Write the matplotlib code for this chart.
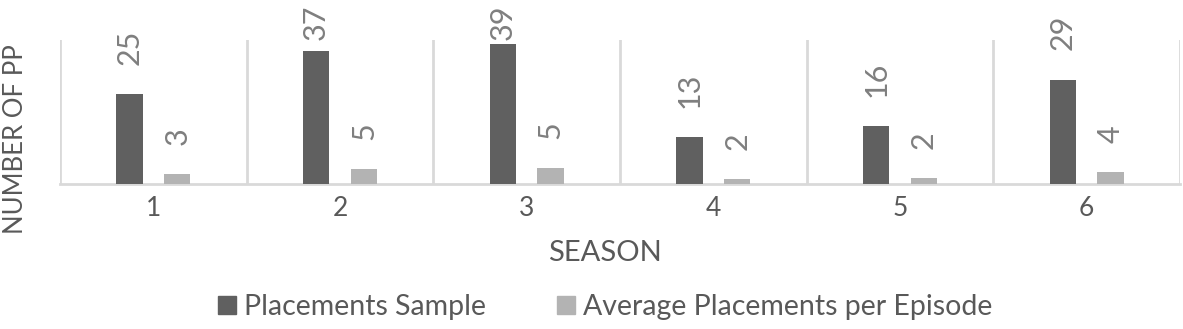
import matplotlib
matplotlib.use("Agg")
import matplotlib.pyplot as plt
import matplotlib.patches as mpatches
import numpy as np

plt.rcParams['font.family'] = ['Lato', 'DejaVu Sans']

seasons = ['1', '2', '3', '4', '5', '6']
placements = [25, 37, 39, 13, 16, 29]
# averages; the labels shown in the chart are rounded up
avg_per_episode = [2.8, 4.2, 4.5, 1.3, 1.6, 3.25]
avg_labels = ['3', '5', '5', '2', '2', '4']

DARK = '#606060'
LIGHT = '#b3b3b3'
GRID = '#d9d9d9'
TEXT = '#595959'
LABEL = '#7f7f7f'

W, H = 1183, 329
fig = plt.figure(figsize=(W / 100, H / 100), dpi=100)
ax = fig.add_axes([60 / W, 1 - 184 / H, 1120 / W, 144 / H])

x = np.arange(len(seasons))
bw = 0.14
off = 0.128
b1 = ax.bar(x - off, placements, bw, color=DARK, zorder=3)
b2 = ax.bar(x + off, avg_per_episode, bw, color=LIGHT, zorder=3)

ax.set_xlim(-0.5, len(seasons) - 0.5)
ax.set_ylim(0, 40)
for b in np.arange(-0.5, len(seasons), 1.0):
    ax.axvline(b, color=GRID, lw=2, zorder=1)
for s in ['top', 'right', 'left']:
    ax.spines[s].set_visible(False)
ax.spines['bottom'].set_color(GRID)
ax.spines['bottom'].set_linewidth(2)
ax.set_yticks([])
ax.set_xticks(x)
ax.set_xticklabels(seasons, fontsize=19, color=TEXT)
ax.tick_params(axis='x', length=0, pad=9)

texts = []
for bars, labels in [(b1, [str(v) for v in placements]), (b2, avg_labels)]:
    for rect, lab in zip(bars, labels):
        t = ax.annotate(lab, (rect.get_x() + rect.get_width() / 2, rect.get_height()),
                        xytext=(0, 21), textcoords='offset points', rotation=90,
                        ha='center', va='bottom', fontsize=22, color=LABEL,
                        annotation_clip=False)
        texts.append(t)

fig.text(605 / W, 1 - 253 / H, 'SEASON', fontsize=21, color=TEXT, ha='center', va='center')
fig.text(16 / W, 1 - 139 / H, 'NUMBER OF PP', fontsize=18.5, color=TEXT, ha='center',
         va='center', rotation=90)

handles = [mpatches.Patch(color=DARK, label='Placements Sample'),
           mpatches.Patch(color=LIGHT, label='Average Placements per Episode')]
fig.legend(handles=handles, ncol=2, loc='center', bbox_to_anchor=(605 / W, 1 - 307 / H),
           frameon=False, fontsize=20.5, labelcolor=TEXT, handlelength=0.62,
           handleheight=0.62, handletextpad=0.28, columnspacing=2.5)

# keep tall labels inside the figure, like the original does
fig.canvas.draw()
for t in texts:
    bb = t.get_window_extent()
    if bb.y1 > H - 4:
        dx, dy = t.xyann
        t.xyann = (dx, dy - (bb.y1 - (H - 4)) * 72 / 100)

fig.savefig('out.png', dpi=100)
